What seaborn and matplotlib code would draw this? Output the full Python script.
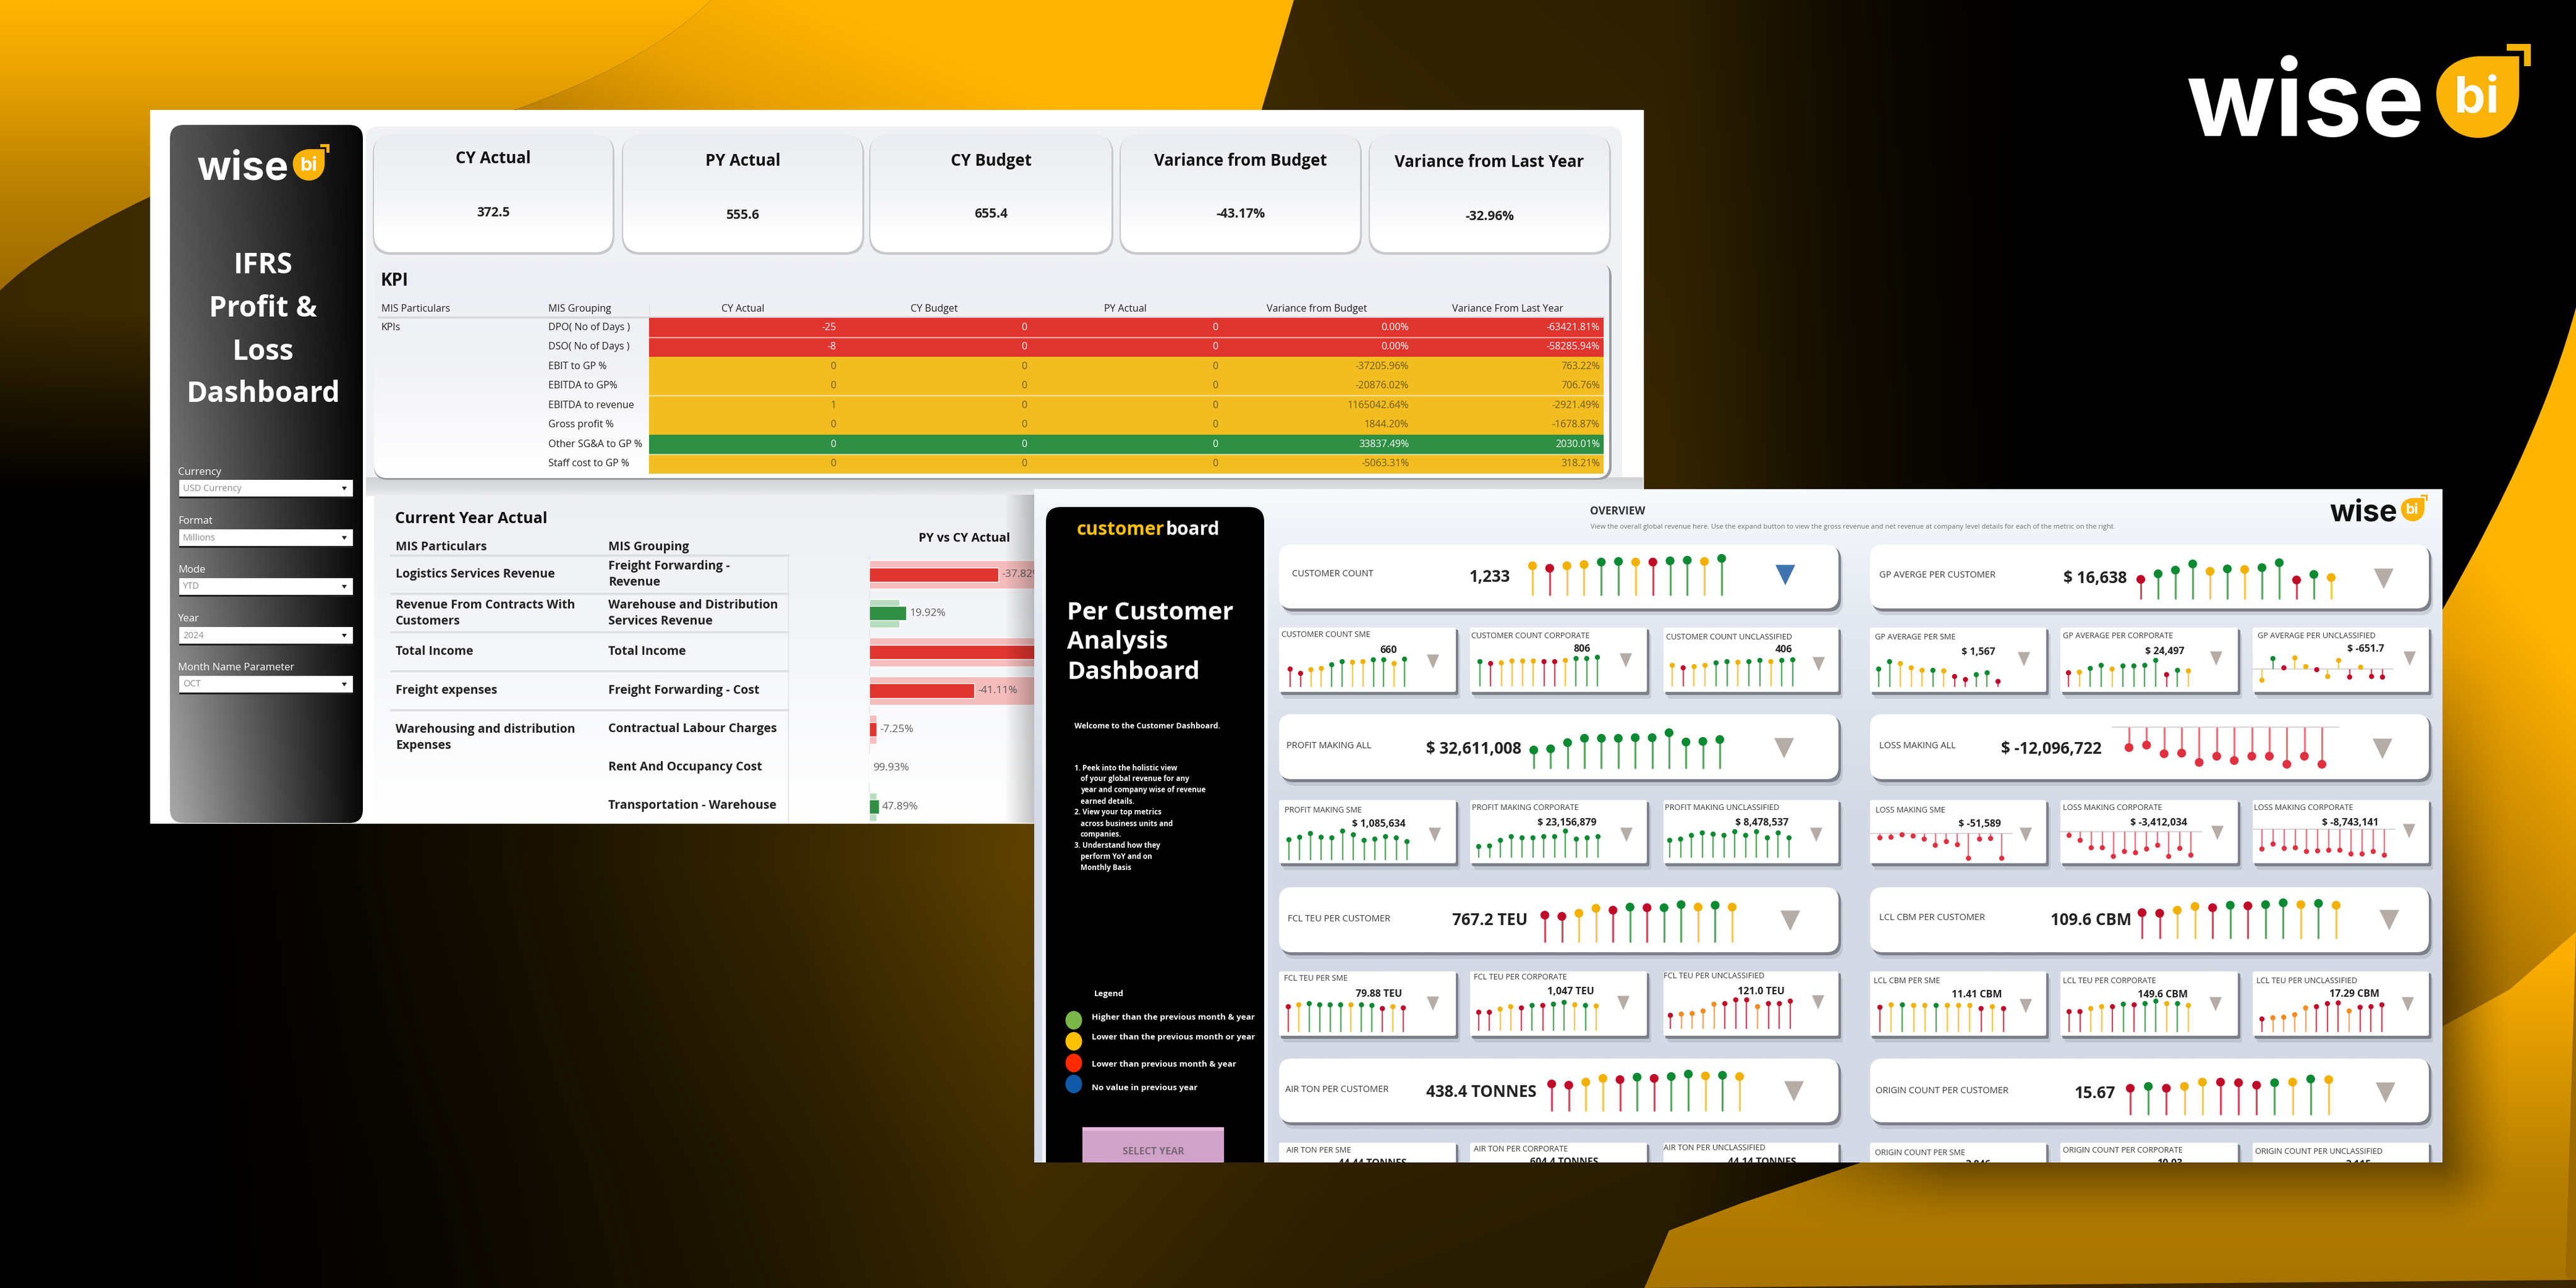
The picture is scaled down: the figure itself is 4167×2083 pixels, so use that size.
import numpy as np
import pandas as pd
import matplotlib
matplotlib.use("Agg")
import matplotlib.pyplot as plt
import seaborn as sns
from matplotlib.colors import ListedColormap, to_rgb
from matplotlib.patches import FancyBboxPatch, PathPatch, Polygon, Rectangle, Ellipse
from matplotlib.path import Path

W, H = 4167, 2083

# --- KPI table
kpi_rows = ["DPO( No of Days )", "DSO( No of Days )", "EBIT to GP %", "EBITDA to GP%",
            "EBITDA to revenue", "Gross profit %", "Other SG&A to GP %", "Staff cost to GP %"]
kpi_cols = ["CY Actual", "CY Budget", "PY Actual", "Variance from Budget", "Variance From Last Year"]
kpi_status = [0, 0, 1, 1, 1, 1, 2, 1]
kpi_cy_actual = ["-25", "-8", "0", "0", "1", "0", "0", "0"]
kpi_cy_budget = ["0"] * 8
kpi_py_actual = ["0"] * 8
kpi_var_budget = ["0.00%", "0.00%", "-37205.96%", "-20876.02%", "1165042.64%", "1844.20%", "33837.49%", "-5063.31%"]
kpi_var_year = ["-63421.81%", "-58285.94%", "763.22%", "706.76%", "-2921.49%", "-1678.87%", "2030.01%", "318.21%"]

# --- top cards
top_titles = ["CY Actual", "PY Actual", "CY Budget", "Variance from Budget", "Variance from Last Year"]
top_values = ["372.5", "555.6", "655.4", "-43.17%", "-32.96%"]

# --- current year table, bars in millions
cy_particulars = ["Logistics Services Revenue", "Revenue From Contracts With\nCustomers", "Total Income",
                  "Freight expenses", "Warehousing and distribution\nExpenses", "", ""]
cy_grouping = ["Freight Forwarding -\nRevenue", "Warehouse and Distribution\nServices Revenue", "Total Income",
               "Freight Forwarding - Cost", "Contractual Labour Charges", "Rent And Occupancy Cost",
               "Transportation - Warehouse"]
cy_actual = [104.5, 30, 160, 85, 6, 0.5, 8]
py_actual = [150, 24.5, 160, 150, 6, 0.5, 6]
cy_change = ["-37.82%", "19.92%", "", "-41.11%", "-7.25%", "99.93%", "47.89%"]
cy_up = [False, True, False, False, False, True, True]

filter_labels = ["Currency", "Format", "Mode", "Year", "Month Name Parameter"]
filter_values = ["USD Currency", "Millions", "YTD", "2024", "OCT"]

legend_labels = ["Higher than the previous month & year", "Lower than the previous month or year",
                 "Lower than previous month & year", "No value in previous year"]

# --- lollipops, 12 months each
customer_count = [48, 44, 48, 50, 54, 55, 54, 54, 56, 57, 55, 60]
customer_count_st = list("yryyggyrggyg")
gp_avg = [32, 41, 47, 57, 45, 49, 48, 51, 59, 31, 40, 35]
gp_avg_st = list("rgggygyggrgy")
profit_all = [30, 32, 42, 49, 49, 49, 50, 50, 58, 43, 44, 47]
loss_all = [-33, -29, -43, -42, -57, -47, -54, -47, -47, -60, -47, -60]
fcl_teu = [44, 42, 47, 55, 52, 57, 56, 56, 61, 57, 60, 57]
lcl_cbm = [42, 41, 46, 52, 50, 54, 53, 55, 58, 55, 57, 54]
air_ton = [44, 42, 47, 53, 51, 55, 53, 56, 60, 57, 58, 56]
freight_st = list("rryyrgrggygy")
origin_count = [43, 46, 43, 46, 53, 53, 52, 48, 52, 53, 58, 57]
origin_count_st = list("rgryyrrrgygy")

cc_sme = [29, 22, 28, 30, 36, 41, 40, 41, 44, 44, 38, 45]
cc_sme_st = list("rryyggyyggyg")
cc_corp = [40, 37, 38, 41, 41, 41, 40, 40, 42, 45, 45, 47]
cc_corp_st = list("gryyyyrryggg")
cc_uncl = [34, 30, 32, 34, 38, 40, 39, 40, 42, 40, 42, 43]
cc_uncl_st = list("yryyggyggygg")
gp_sme = [29, 41, 38, 31, 27, 27, 26, 17, 12, 20, 23, 9]
gp_sme_st = list("ggyyygyrrggr")
gp_corp = [23, 24, 30, 35, 29, 34, 34, 35, 43, 20, 27, 26]
gp_corp_st = list("ryggyggggrgy")
gp_uncl = [-18, 17, 2, 18, 4, -1, -12, 14, -13, 3, -12, -13]
gp_uncl_st = list("ygryyryyryrr")
profit_sme = [33, 37, 43, 37, 36, 47, 41, 32, 34, 38, 36, 30]
profit_corp = [18, 19, 28, 34, 32, 32, 34, 34, 43, 30, 32, 34]
profit_uncl = [28, 30, 36, 40, 38, 36, 42, 36, 42, 32, 40, 32]
loss_sme = [-7, -6, -2, -4, -9, -19, -13, -18, -40, -9, -8, -40]
loss_corp = [-6, -14, -26, -26, -40, -32, -34, -28, -22, -40, -27, -38]
loss_corp2 = [-32, -24, -31, -30, -36, -35, -34, -34, -40, -40, -36, -42]
fcl_sme = [41, 44, 46, 44, 44, 44, 44, 44, 43, 38, 41, 39]
fcl_sme_st = list("ryggggyggryr")
fcl_corp = [30, 30, 35, 39, 37, 41, 41, 43, 46, 42, 41, 40]
fcl_uncl = [22, 24, 25, 29, 40, 41, 47, 47, 36, 41, 41, 45]
teu_uncl_st = list("roooorrrorrr")
lcl_sme = [40, 44, 44, 43, 43, 43, 43, 43, 43, 38, 41, 38]
lcl_sme_st = list("rygyygyyyryr")
lcl_corp = [33, 33, 38, 41, 41, 45, 44, 46, 50, 46, 46, 43]
lcl_uncl = [21, 23, 24, 28, 39, 41, 46, 47, 34, 40, 41, 44]
all_green = list("g" * 12)
all_loss = list("l" * 12)

months = list(range(12))

HEAD = {"y": "#f2b000", "r": "#c00a28", "g": "#0c8a32", "o": "#f58a1f", "l": "#e03040"}
STEM = {"y": "#f8c94e", "r": "#d64a60", "g": "#58aa62", "o": "#f9a860", "l": "#ee7480"}
TRI = "#b5aca6"

sns.set_theme(style="white")
plt.rcParams["font.family"] = ["Open Sans", "DejaVu Sans"]

fig = plt.figure(figsize=(W / 100, H / 100), dpi=100)


def px_axes(x0, x1, y0, y1, z):
    # axes placed by picture pixels, y measured from the top
    a = fig.add_axes([x0 / W, 1 - y1 / H, (x1 - x0) / W, (y1 - y0) / H], zorder=z)
    a.patch.set_alpha(0)
    a.set_axis_off()
    return a


def canvas(z):
    a = px_axes(0, W, 0, H, z)
    a.set_xlim(0, W)
    a.set_ylim(H, 0)
    a.autoscale(False)
    return a


def ramp(vals, stops):
    pos = [s[0] for s in stops]
    rgb = np.array([to_rgb(s[1]) for s in stops])
    return np.stack([np.interp(vals, pos, rgb[:, i]) for i in range(3)], axis=-1)


def paint(a, arr, x0, x1, y0, y1, clip=None, z=1):
    im = a.imshow(arr, extent=(x0, x1, y1, y0), aspect="auto", interpolation="bilinear", zorder=z)
    if clip is not None:
        clip.set_transform(a.transData)
        im.set_clip_path(clip)
    return im


def shade(a, x0, x1, y0, y1, horizontal, a0, a1, z=1, color=(0, 0, 0)):
    n = 64
    t = np.linspace(a0, a1, n)
    arr = np.zeros((1, n, 4) if horizontal else (n, 1, 4))
    arr[..., :3] = color
    arr[..., 3] = t.reshape((1, n) if horizontal else (n, 1))
    a.imshow(arr, extent=(x0, x1, y1, y0), aspect="auto", interpolation="bilinear", zorder=z)


def T(a, x, y, s, size, color="black", ha="left", weight="normal", z=8, **kw):
    return a.text(x, y, s, fontsize=size, color=color, ha=ha, va="center", fontweight=weight,
                  zorder=z, parse_math=False, **kw)


def box(a, x0, y0, x1, y1, r, color, z=3, **kw):
    p = FancyBboxPatch((x0, y0), x1 - x0, y1 - y0, boxstyle=f"round,pad=0,rounding_size={r}",
                       facecolor=color, edgecolor="none", zorder=z, **kw)
    a.add_patch(p)
    return p


def card(a, x0, y0, x1, y1, r, z=3, clip=None):
    parts = [box(a, x0 + 7, y0 + 10, x1 + 7, y1 + 11, r, "#9aa0ab", z=z, alpha=0.35),
             box(a, x0 + 3, y0 + 3, x1 + 4, y1 + 5, r, "#7d8089", z=z),
             box(a, x0, y0, x1, y1, r, "white", z=z)]
    if clip is not None:
        for p in parts:
            p.set_clip_path(clip)


def logo(a, x, y, k, color):
    T(a, x - 6 * k, y - 47 * k, "wise", 122 * k, color, weight="bold", family="Inter", z=9)
    v = [(533, -132), (533, -72), (533, -30), (505, 0), (467, 0),
         (425, 0), (399, -35), (399, -72), (399, -108), (432, -132), (470, -132), (533, -132)]
    c = [Path.MOVETO, Path.LINETO, Path.CURVE4, Path.CURVE4, Path.CURVE4,
         Path.CURVE4, Path.CURVE4, Path.CURVE4, Path.CURVE4, Path.CURVE4, Path.CURVE4, Path.CLOSEPOLY]
    pts = [(x + px * k, y + py * k) for px, py in v]
    a.add_patch(PathPatch(Path(pts, c), facecolor="#f9b208", edgecolor="none", zorder=9))
    T(a, x + 464 * k, y - 62 * k, "bi", 58 * k, "white", ha="center", weight="bold", family="Inter", z=10)
    br = [(513, -152), (552, -152), (552, -116), (541, -116), (541, -141), (513, -141)]
    a.add_patch(Polygon([(x + px * k, y + py * k) for px, py in br], facecolor="#f9b208", edgecolor="none", zorder=9))


def triangle(a, x, y, w, h, color=TRI):
    a.add_patch(Polygon([(x - w / 2, y - h / 2), (x + w / 2, y - h / 2), (x, y + h / 2)],
                        facecolor=color, edgecolor="none", zorder=7))


def lollipop(vals, status, x0, x1, base, big=True, line=False):
    # base is the pixel row of value 0, one value unit is one pixel
    step = (x1 - x0) / 11
    low = min(min(vals), 0) - 10
    high = max(max(vals), 0) + 10
    a = px_axes(x0 - step, x1 + step, base - high, base - low, 6)
    df = pd.DataFrame({"month": months, "value": vals, "status": status})
    a.vlines(df["month"], 0, df["value"], colors=[STEM[s] for s in status], linewidth=2.3 if big else 1.7)
    sns.scatterplot(data=df, x="month", y="value", hue="status", palette=HEAD, legend=False,
                    s=105 if big else 36, linewidth=0, ax=a, zorder=3)
    if line:
        a.axhline(0, color="#d9d9d9", linewidth=1.5, zorder=1)
    a.set_xlim(-1, 12)
    a.set_ylim(low, high)
    a.set_axis_off()


# background
bg = canvas(0)
bg.add_patch(Rectangle((0, 0), W, H, facecolor="black", zorder=0))
xs = np.linspace(0, W, 420)
ys = np.linspace(0, H, 210)
xx, yy = np.meshgrid(xs, ys)
f = np.interp(xx, [0, 300, 800, 1300, 1650, 2200, 2700, 3000, 3300], [0, 0, .22, .6, 1, .72, .65, .2, 0])
f = f * np.interp(yy, [0, 1400, 1900, 2083], [.75, 1, .68, .62])
f = f + np.interp(yy, [300, 500, 800], [.75, .75, 0]) * np.interp(xx, [0, 400, 800], [.8, .9, 0]) * (1 - f)
paint(bg, ramp(f, [(0, "#000000"), (1, "#5e4200")]), 0, W, 0, H, z=0.5)

left_v = [(0, 0), (1150, 0), (1050, 100), (835, 177), (243, 318), (70, 400), (0, 470), (0, 0)]
left_c = [Path.MOVETO, Path.LINETO, Path.CURVE3, Path.CURVE3, Path.LINETO, Path.CURVE3, Path.CURVE3, Path.CLOSEPOLY]
paint(bg, ramp(yy / 470, [(0, "#ffb400"), (.21, "#eea600"), (.64, "#b98000"), (1, "#9c6a00")]), 0, W, 0, H,
      clip=PathPatch(Path(left_v, left_c)), z=1)
mid_v = [(1150, 0), (2093, 0), (2041, 177), (2030, 300), (800, 300), (835, 177), (1050, 100), (1150, 0)]
mid_c = [Path.MOVETO, Path.LINETO, Path.LINETO, Path.LINETO, Path.LINETO, Path.LINETO, Path.CURVE3, Path.CURVE3]
v = np.clip((xx - 800) / 900 + (170 - yy) / 170 * .45, 0, 1)
paint(bg, ramp(v, [(0, "#b87c00"), (.5, "#e8a000"), (1, "#ffb400")]), 0, W, 0, H,
      clip=PathPatch(Path(mid_v, mid_c)), z=1.1)

# the upper shape runs on under the lower one, so no gap opens along their shared edge
right_v = [(4167, 497), (4110, 710), (3951, 986), (3700, 1200), (3700, 1800), (3951, 1720), (4167, 1620), (4167, 497)]
right_c = [Path.MOVETO, Path.CURVE3, Path.CURVE3, Path.LINETO, Path.LINETO, Path.LINETO, Path.LINETO, Path.CLOSEPOLY]
v = np.clip((1580 - yy) / 580 * .75 + (xx - 3951) / 216 * .35, 0, 1)
paint(bg, ramp(v, [(0, "#9a6800"), (.75, "#e8a000"), (1, "#ffb400")]), 0, W, 0, H,
      clip=PathPatch(Path(right_v, right_c)), z=1.2)
low_v = [(2660, 2083), (2700, 1990), (2819, 1945), (3005, 1882), (3400, 1700), (3951, 1660), (4060, 1600),
         (4167, 1507), (4167, 2083), (2660, 2083)]
low_c = [Path.MOVETO, Path.LINETO, Path.LINETO, Path.LINETO, Path.LINETO, Path.LINETO, Path.LINETO, Path.LINETO,
         Path.LINETO, Path.CLOSEPOLY]
paint(bg, ramp(yy, [(1550, "#fcae00"), (1900, "#b88000"), (2083, "#a87400")]), 0, W, 0, H,
      clip=PathPatch(Path(low_v, low_c)), z=1.3)
bg.add_patch(Polygon([(4150, 2062), (4167, 1510), (4167, 2083)], facecolor="#9c6a00", edgecolor="none", zorder=1.4))
bg.add_patch(Polygon([(2660, 2083), (4167, 2070), (4167, 2083)], facecolor="#3a2600", edgecolor="none", zorder=1.4))

# soft shadow that the second dashboard throws on the gold shapes
sx, sy = np.meshgrid(np.linspace(2700, 4167, 300), np.linspace(900, 2083, 240))
dist = np.hypot(np.maximum(sx - 3951, 0), np.maximum(sy - 1880, 0))
soft = np.zeros(sx.shape + (4,))
soft[..., 3] = (.45 * np.clip(1 - dist / 115, 0, 1) ** 1.5 * np.interp(sy, [1050, 1550], [0, 1])
                * np.interp(sx, [2850, 3150], [0, 1]))
bg.imshow(soft, extent=(2700, 4167, 2083, 900), aspect="auto", interpolation="bilinear", zorder=1.5)

logo(bg, 3542, 223, 1, "white")

# left dashboard
bg.add_patch(Rectangle((243, 178), 2415, 1153, facecolor="white", zorder=2))
box(bg, 592, 204, 2624, 800, 22, "#f0f1f4", z=2.1)
paint(bg, np.array(ramp(np.linspace(0, 1, 64), [(0, "#d0d1d3"), (.6, "#dcdde0"), (1, "#ebecef")])).reshape(64, 1, 3),
      592, 2658, 772, 802, z=2.2)

u = np.clip((xx - 275) / 312, 0, 1)
w = np.clip((yy - 202) / 1130, 0, 1)
side_arr = ramp(np.clip((1 - u) * (.32 + .32 * w ** 1.6) + .02, 0, 1), [(0, "#000000"), (1, "#ffffff")])
paint(bg, side_arr, 0, W, 0, H, clip=FancyBboxPatch((275, 202), 312, 1129, boxstyle="round,pad=0,rounding_size=22"), z=2.4)
logo(bg, 320, 292, .385, "white")
for s, y in zip(["IFRS", "Profit &", "Loss", "Dashboard"], [430, 499, 569, 637]):
    T(bg, 426, y, s, 33, "white", ha="center", weight="bold")
for lab, val, ly, by in zip(filter_labels, filter_values, [764, 843, 922, 1001, 1080], [776, 856, 935, 1014, 1093]):
    T(bg, 288, ly, lab, 12, "white")
    bg.add_patch(Rectangle((290, by + 3), 281, 27, facecolor="#222222", edgecolor="none", zorder=5))
    bg.add_patch(Rectangle((290, by), 281, 27, facecolor="white", edgecolor="none", zorder=5))
    T(bg, 296, by + 14, val, 10.5, "#8a8a8a")
    bg.add_patch(Polygon([(553, by + 11), (561, by + 11), (557, by + 17)], facecolor="#222222", edgecolor="none", zorder=6))

card_x = [(605, 991), (1008, 1395), (1408, 1798), (1813, 2200), (2216, 2603)]
title_y = [257, 261, 260, 260, 263]
for (x0, x1), title, val, ty in zip(card_x, top_titles, top_values, title_y):
    box(bg, x0 - 2, 219, x1 + 3, 412, 30, "#c6c8cd", z=2.5)
    box(bg, x0, 217, x1, 408, 30, "white", z=2.6)
    grad = ramp(np.linspace(0, 1, 64), [(0, "#ebecf1"), (.55, "#f4f5f8"), (.85, "#ffffff"), (1, "#ffffff")]).reshape(64, 1, 3)
    paint(bg, grad, x0, x1, 217, 408, clip=FancyBboxPatch((x0, 217), x1 - x0, 191, boxstyle="round,pad=0,rounding_size=30"), z=2.7)
    T(bg, (x0 + x1) / 2, ty, title, 18.5, "#111111", ha="center", weight="bold")
    T(bg, (x0 + x1) / 2, ty + 87, val, 15, "#222222", ha="center", weight="bold")

box(bg, 605, 426, 2607, 776, 22, "#9a9ca1", z=2.5)
box(bg, 605, 423, 2603, 773, 22, "white", z=2.6)
grad = ramp(np.linspace(0, 1, 64), [(0, "#edeef3"), (.45, "#f1f2f6"), (1, "#ffffff")]).reshape(64, 1, 3)
paint(bg, grad, 605, 2603, 423, 773, clip=FancyBboxPatch((605, 423), 1998, 350, boxstyle="round,pad=0,rounding_size=22"), z=2.7)
T(bg, 616, 454, "KPI", 20, "#111111", weight="bold")
T(bg, 617, 500, "MIS Particulars", 11.5, "#222222")
T(bg, 887, 500, "MIS Grouping", 11.5, "#222222")
T(bg, 617, 530, "KPIs", 11.5, "#222222")
bg.plot([612, 2594], [513, 513], color="#d6d8dc", linewidth=2.5, zorder=5)
bg.plot([1050, 1050], [490, 766], color="#dcdde0", linewidth=1, zorder=5)
for i, lab in enumerate(kpi_rows):
    T(bg, 887, 514 + 31.5 * (i + .5), lab, 11.5, "#222222")
for cx, col in zip([1202, 1511, 1820, 2130, 2439], kpi_cols):
    T(bg, cx, 500, col, 11.5, "#222222", ha="center")

hm = px_axes(1050, 2594, 514, 766, 1)
kpi_text = [kpi_cy_actual, kpi_cy_budget, kpi_py_actual, kpi_var_budget, kpi_var_year]
kpi_df = pd.DataFrame({c: kpi_status for c in kpi_cols}, index=kpi_rows)
sns.heatmap(kpi_df, cmap=ListedColormap(["#e0342f", "#f2bd21", "#2e8f43"]), vmin=0, vmax=2, cbar=False,
            xticklabels=False, yticklabels=False, ax=hm)
hm.set_xlabel("")
hm.set_ylabel("")
for j, col in enumerate(kpi_text):
    for i, s in enumerate(col):
        tc = "#6e5a18" if kpi_status[i] == 1 else "white"
        hm.text(j + .98, i + .5, s, ha="right", va="center", fontsize=11.5, color=tc)
for i in (1, 4, 7):
    hm.axhline(i, color="white", linewidth=1.6, alpha=.55)

# current year table
paint(bg, ramp(np.linspace(0, 1, 64), [(0, "#eeeff3"), (.5, "#f6f7fa"), (1, "#ffffff")]).reshape(64, 1, 3),
      605, 1673, 800, 1331, z=2.5)
T(bg, 639, 839, "Current Year Actual", 18, "#111111", weight="bold")
T(bg, 1560, 871, "PY vs CY Actual", 14, "#111111", ha="center", weight="bold")
T(bg, 640, 885, "MIS Particulars", 14, "#222222", weight="bold")
T(bg, 984, 885, "MIS Grouping", 14, "#222222", weight="bold")
for y in [898, 960, 1022, 1085, 1148]:
    bg.plot([632, 1275], [y, y], color="#dcdee3", linewidth=2.5, zorder=3)
bg.plot([1275, 1275], [898, 1331], color="#dddfe3", linewidth=1, zorder=3)
bg.plot([1406, 1406], [898, 1331], color="#e2e3e7", linewidth=1, zorder=3)
row_y = [929, 992, 1054, 1117, 1179, 1241, 1303]
for y, a_txt, b_txt in zip(row_y, cy_particulars, cy_grouping):
    T(bg, 640, y + (14 if "\n" in a_txt and y > 1100 else 0), a_txt, 14, "#222222", weight="bold", linespacing=1.35)
    T(bg, 984, y, b_txt, 14, "#222222", weight="bold", linespacing=1.35)

bars = px_axes(1406, 1673, 898, 1331, 1)
cy_names = [f"row{i}" for i in range(len(cy_actual))]
sns.barplot(y=cy_names, x=py_actual, hue=cy_names, orient="h", width=.74, legend=False, ax=bars,
            palette=["#b8dcc0" if up else "#f5bcbc" for up in cy_up], saturation=1)
sns.barplot(y=cy_names, x=cy_actual, hue=cy_names, orient="h", width=.37, legend=False, ax=bars,
            palette=["#2e8f43" if up else "#e0342f" for up in cy_up], saturation=1)
bars.set_xlim(0, 133.5)
bars.set_ylim(6.42, -.5)
bars.set_axis_off()
for i, (val, lab) in enumerate(zip(cy_actual, cy_change)):
    if lab:
        bars.text(val + 2.5, i, lab, fontsize=12.5, color="#5e5e5e", va="center", clip_on=True)

# second dashboard
top = canvas(2)
shade(top, 1625, 1673, 800, 1331, True, 0, .24, z=0.5)
panel = Rectangle((1673, 791), 2278, 1089, facecolor="white", edgecolor="none", zorder=1)
top.add_patch(panel)
grad = ramp(np.linspace(791, 1880, 128), [(791, "#f6fafd"), (1000, "#e4e9f1"), (1300, "#d4dbe6"), (1880, "#d3dae6")]).reshape(128, 1, 3)
paint(top, grad, 1673, 3951, 791, 1880, z=1.1)
box(top, 1686, 815, 2051, 1960, 26, "#f2f6fb", z=1.2).set_clip_path(panel)
box(top, 1692, 820, 2045, 1960, 24, "black", z=1.3).set_clip_path(panel)
T(top, 1742, 857, "customer", 21.5, "#ffc107", weight="bold")
T(top, 1886, 857, "board", 21.5, "white", weight="bold")
for s, y in zip(["Per Customer", "Analysis", "Dashboard"], [991, 1038, 1087]):
    T(top, 1726, y, s, 28.5, "white", weight="bold")
T(top, 1738, 1175, "Welcome to the Customer Dashboard.", 9, "white", weight="bold")
intro = ["1. Peek into the holistic view", "of your global revenue for any", "year and company wise of revenue",
         "earned details.", "2. View your top metrics", "across business units and", "companies.",
         "3. Understand how they", "perform YoY and on", "Monthly Basis"]
intro_y = [1242, 1260, 1278, 1296, 1314, 1332, 1350, 1367, 1386, 1403]
for s, y in zip(intro, intro_y):
    T(top, 1738 if s[0].isdigit() else 1748, y, s, 8.5, "white", weight="bold")
T(top, 1794, 1608, "Legend", 9.5, "white", ha="center", weight="bold")
for lab, col, cy, ty in zip(legend_labels, ["#7ab648", "#ffc000", "#ff2a00", "#0f5aa8"],
                            [1650, 1684, 1719, 1753], [1646, 1678, 1721, 1759]):
    top.add_patch(Ellipse((1737, cy), 27, 30, facecolor=col, edgecolor="none", zorder=6))
    T(top, 1766, ty, lab, 9.7, "white", weight="bold")
top.add_patch(Rectangle((1751, 1823), 229, 57, facecolor="#d1a2c8", edgecolor="none", zorder=5))
top.add_patch(Rectangle((1751, 1823), 229, 6, facecolor="#e8b8dc", edgecolor="none", zorder=5))
T(top, 1866, 1863, "SELECT YEAR", 11.5, "#7a6878", ha="center", weight="bold")
T(top, 2617, 827, "OVERVIEW", 12.5, "#333333", ha="center", weight="bold")
T(top, 2573, 853, "View the overall global revenue here. Use the expand button to view the gross revenue and net revenue at company level details for each of the metric on the right.",
  8, "#6f7378")
logo(top, 3770, 843, .285, "#111111")

big_rows = [(881, 984), (1155, 1260), (1435, 1540), (1712, 1815)]
small_rows = [(1015, 1119), (1294, 1396), (1571, 1675), (1848, 1960)]
for y0, y1 in big_rows:
    card(top, 2069, y0, 2974, y1, 20)
    card(top, 3025, y0, 3929, y1, 20)
small_x = [(2069, 2355), (2378, 2664), (2691, 2974), (3025, 3310), (3333, 3620), (3644, 3929)]
for y0, y1 in small_rows:
    for x0, x1 in small_x:
        card(top, x0, y0, x1, y1, 3, clip=panel)

# title, value, title xy, value xy, triangle xy
big_cards = [
    ("CUSTOMER COUNT", "1,233", 2090, 929, 2410, 933, 2888, 930),
    ("GP AVERGE PER CUSTOMER", "$ 16,638", 3040, 931, 3389, 936, 3856, 936),
    ("PROFIT MAKING ALL", "$ 32,611,008", 2081, 1207, 2384, 1212, 2886, 1210),
    ("LOSS MAKING ALL", "$ -12,096,722", 3040, 1206, 3318, 1211, 3854, 1211),
    ("FCL TEU PER CUSTOMER", "767.2 TEU", 2083, 1487, 2410, 1489, 2896, 1489),
    ("LCL CBM PER CUSTOMER", "109.6 CBM", 3040, 1485, 3383, 1488, 3865, 1488),
    ("AIR TON PER CUSTOMER", "438.4 TONNES", 2079, 1763, 2396, 1767, 2902, 1765),
    ("ORIGIN COUNT PER CUSTOMER", "15.67", 3034, 1764, 3389, 1768, 3859, 1767),
]
for i, (title, val, tx, ty, vx, vy, ax_, ay) in enumerate(big_cards):
    T(top, tx, ty, title, 10.5, "#3a3a3a", z=8)
    T(top, vx, vy, val, 18.5, "#222222", ha="center", weight="bold")
    triangle(top, ax_, ay, 32, 33, "#3f74b0" if i == 0 else TRI)

small_cards = [
    ("CUSTOMER COUNT SME", "660", 2073, 1026, 2246, 1052, 2318, 1070),
    ("CUSTOMER COUNT CORPORATE", "806", 2380, 1028, 2559, 1050, 2630, 1068),
    ("CUSTOMER COUNT UNCLASSIFIED", "406", 2695, 1030, 2886, 1051, 2942, 1074),
    ("GP AVERAGE PER SME", "$ 1,567", 3033, 1031, 3200, 1055, 3274, 1066),
    ("GP AVERAGE PER CORPORATE", "$ 24,497", 3337, 1028, 3502, 1054, 3585, 1065),
    ("GP AVERAGE PER UNCLASSIFIED", "$ -651.7", 3652, 1028, 3827, 1050, 3898, 1065),
    ("PROFIT MAKING SME", "$ 1,085,634", 2078, 1310, 2230, 1333, 2321, 1350),
    ("PROFIT MAKING CORPORATE", "$ 23,156,879", 2381, 1306, 2535, 1331, 2631, 1350),
    ("PROFIT MAKING UNCLASSIFIED", "$ 8,478,537", 2693, 1307, 2850, 1331, 2938, 1350),
    ("LOSS MAKING SME", "$ -51,589", 3034, 1310, 3202, 1333, 3277, 1350),
    ("LOSS MAKING CORPORATE", "$ -3,412,034", 3337, 1306, 3492, 1331, 3587, 1347),
    ("LOSS MAKING CORPORATE", "$ -8,743,141", 3646, 1307, 3802, 1331, 3897, 1344),
    ("FCL TEU PER SME", "79.88 TEU", 2077, 1583, 2231, 1608, 2318, 1623),
    ("FCL TEU PER CORPORATE", "1,047 TEU", 2384, 1581, 2541, 1604, 2626, 1622),
    ("FCL TEU PER UNCLASSIFIED", "121.0 TEU", 2691, 1578, 2849, 1604, 2941, 1621),
    ("LCL CBM PER SME", "11.41 CBM", 3031, 1587, 3198, 1609, 3277, 1627),
    ("LCL TEU PER CORPORATE", "149.6 CBM", 3337, 1587, 3499, 1609, 3584, 1624),
    ("LCL TEU PER UNCLASSIFIED", "17.29 CBM", 3650, 1587, 3809, 1608, 3895, 1624),
    ("AIR TON PER SME", "44.44 TONNES", 2081, 1861, 2220, 1882, 0, 0),
    ("AIR TON PER CORPORATE", "604.4 TONNES", 2384, 1859, 2530, 1880, 0, 0),
    ("AIR TON PER UNCLASSIFIED", "44.14 TONNES", 2691, 1857, 2850, 1880, 0, 0),
    ("ORIGIN COUNT PER SME", "3.846", 3033, 1864, 3200, 1884, 0, 0),
    ("ORIGIN COUNT PER CORPORATE", "10.03", 3337, 1861, 3510, 1882, 0, 0),
    ("ORIGIN COUNT PER UNCLASSIFIED", "3.115", 3648, 1862, 3815, 1884, 0, 0),
]
for title, val, tx, ty, vx, vy, ax_, ay in small_cards:
    T(top, tx, ty, title, 9.2, "#3a3a3a")
    b = T(top, vx, vy, val, 11.5, "#222222", ha="center", weight="bold")
    b.set_clip_path(panel)
    b.set_clip_on(True)
    if ax_:
        triangle(top, ax_, ay, 20, 23)

lollipop(customer_count, customer_count_st, 2479, 2785, 963)
lollipop(gp_avg, gp_avg_st, 3463, 3771, 969)
lollipop(profit_all, all_green, 2481, 2782, 1243)
lollipop(loss_all, all_loss, 3444, 3756, 1176, line=True)
lollipop(fcl_teu, freight_st, 2499, 2802, 1524)
lollipop(lcl_cbm, freight_st, 3465, 3779, 1518)
lollipop(air_ton, freight_st, 2510, 2814, 1797)
lollipop(origin_count, origin_count_st, 3446, 3767, 1803)

lollipop(cc_sme, cc_sme_st, 2087, 2272, 1111, big=False)
lollipop(cc_corp, cc_corp_st, 2394, 2584, 1110, big=False)
lollipop(cc_uncl, cc_uncl_st, 2705, 2900, 1110, big=False)
lollipop(gp_sme, gp_sme_st, 3039, 3232, 1111, big=False)
lollipop(gp_corp, gp_corp_st, 3346, 3540, 1111, big=False)
lollipop(gp_uncl, gp_uncl_st, 3659, 3854, 1082, big=False, line=True)
lollipop(profit_sme, all_green, 2085, 2276, 1391, big=False)
lollipop(profit_corp, all_green, 2392, 2585, 1387, big=False)
lollipop(profit_uncl, all_green, 2701, 2894, 1387, big=False)
lollipop(loss_sme, all_loss, 3041, 3238, 1348, big=False, line=True)
lollipop(loss_corp, all_loss, 3347, 3544, 1345, big=False, line=True)
lollipop(loss_corp2, all_loss, 3659, 3857, 1341, big=False, line=True)
lollipop(fcl_sme, fcl_sme_st, 2084, 2270, 1669, big=False)
lollipop(fcl_corp, freight_st, 2392, 2582, 1667, big=False)
lollipop(fcl_uncl, teu_uncl_st, 2702, 2896, 1664, big=False)
lollipop(lcl_sme, lcl_sme_st, 3041, 3241, 1669, big=False)
lollipop(lcl_corp, freight_st, 3347, 3540, 1669, big=False)
lollipop(lcl_uncl, teu_uncl_st, 3659, 3853, 1669, big=False)

fig.savefig("out.png", dpi=100)
